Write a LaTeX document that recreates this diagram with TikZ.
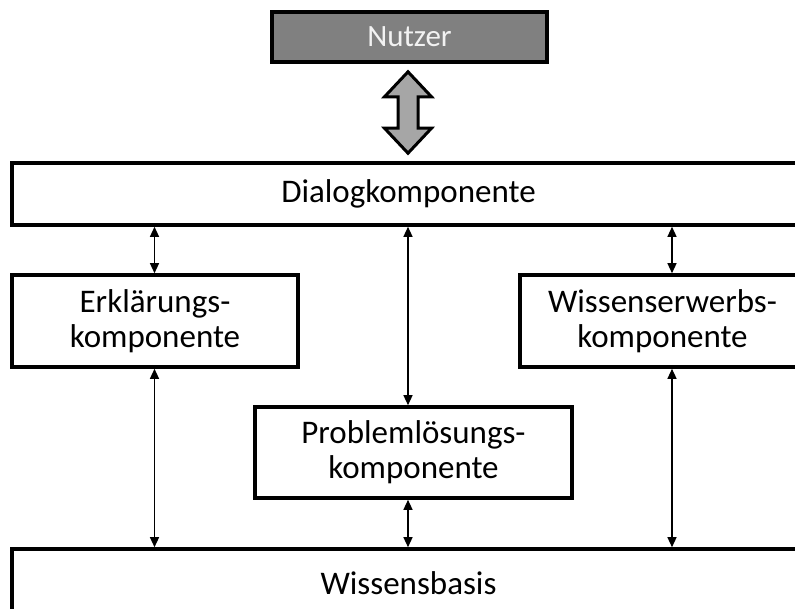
\documentclass[tikz,border=0pt]{standalone}
\usepackage{fontspec}
\setmainfont{Carlito}
\usetikzlibrary{arrows.meta,calc}
\definecolor{userfill}{HTML}{808080}
\definecolor{usertext}{HTML}{F2F2F2}
\definecolor{bigarrow}{HTML}{A6A6A6}
\tikzset{
  comp/.style={draw=black, line width=3.6pt, fill=white, rectangle,
    inner sep=0pt, align=center, font=\fontsize{33}{35}\selectfont},
  link/.style={draw=black, line width=1.3pt,
    {Triangle[length=10pt,width=9pt]}-{Triangle[length=10pt,width=9pt]}},
  bidir/.style={draw=black, line width=3pt, fill=bigarrow, line join=miter}
}
\begin{document}
\begin{tikzpicture}[x=1pt,y=-1pt]
  \useasboundingbox (0,0) rectangle (795,608);
  \clip (0,0) rectangle (795,608);

  % components
  \node[comp, fill=userfill, text=usertext, minimum width=275pt, minimum height=50pt,
        font=\fontsize{31}{34}\selectfont] (user) at (409.5,37) {Nutzer};
  \node[comp, minimum width=793pt, minimum height=62pt] (dialog) at (408.5,194) {Dialogkomponente};
  \node[comp, minimum width=286pt, minimum height=92pt] (expl) at (155,321) {Erklärungs-\\komponente};
  \node[comp, minimum width=285pt, minimum height=92pt] (acq) at (662.5,321) {Wissenserwerbs-\\komponente};
  \node[comp, minimum width=317pt, minimum height=91pt] (solve) at (413.5,452.5) {Problemlösungs-\\komponente};
  \node[comp, minimum width=793pt, minimum height=80pt] (kb) at (408.5,589) {};
  \node[font=\fontsize{33}{35}\selectfont] (kblabel) at (408.5,583) {Wissensbasis};

  % x positions of the vertical links
  \coordinate (xl) at (154.5,0);
  \coordinate (xm) at (408,0);
  \coordinate (xr) at (672,0);

  % thin two-way links
  \draw[link] (dialog.south -| xl) -- (expl.north -| xl);
  \draw[link] (dialog.south -| xr) -- (acq.north -| xr);
  \draw[link] (dialog.south -| xm) -- (solve.north -| xm);
  \draw[link] (expl.south -| xl) -- (kb.north -| xl);
  \draw[link] (acq.south -| xr) -- (kb.north -| xr);
  \draw[link] (solve.south -| xm) -- (kb.north -| xm);

  % broad two-way arrow between user and dialog component
  \coordinate (top) at ($(user.south -| xm)+(0,8)$);
  \coordinate (bot) at ($(dialog.north -| xm)+(0,-8)$);
  \draw[bidir] (top)
    -- ++(23.5,25) -- ++(-13.5,0)
    -- ($(bot)+(10,-25)$) -- ++(13.5,0)
    -- (bot)
    -- ++(-23.5,-25) -- ++(13.5,0)
    -- ($(top)+(-10,25)$) -- ++(-13.5,0)
    -- cycle;
\end{tikzpicture}
\end{document}
